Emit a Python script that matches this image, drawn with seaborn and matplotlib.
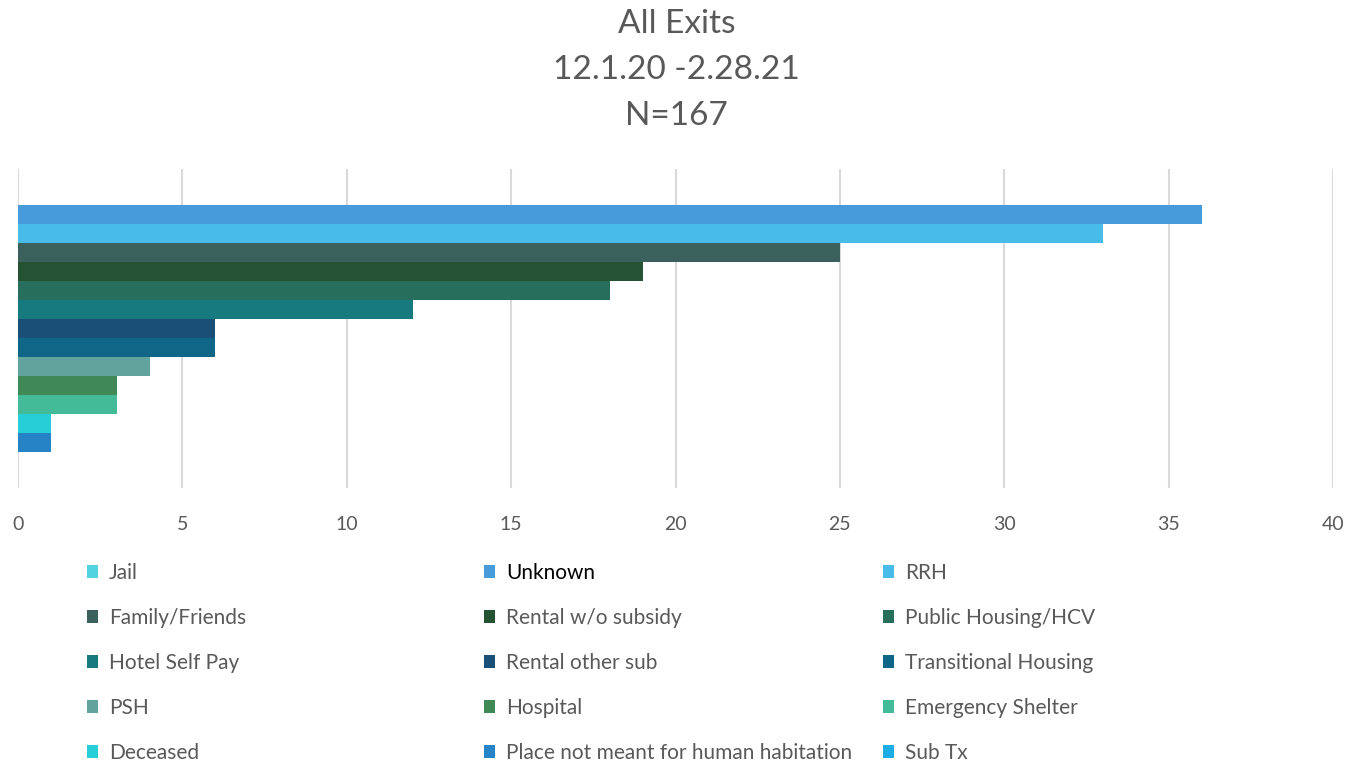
import matplotlib
matplotlib.use("Agg")
import matplotlib.pyplot as plt
from matplotlib.patches import Patch
import pandas as pd
import seaborn as sns

# exit destinations, top to bottom as drawn
categories = [
    "Jail", "Unknown", "RRH", "Family/Friends", "Rental w/o subsidy",
    "Public Housing/HCV", "Hotel Self Pay", "Rental other sub",
    "Transitional Housing", "PSH", "Hospital", "Emergency Shelter",
    "Deceased", "Place not meant for human habitation", "Sub Tx",
]
counts = [0, 36, 33, 25, 19, 18, 12, 6, 6, 4, 3, 3, 1, 1, 0]
colors = [
    "#52D4E0", "#479BDB", "#48BBE8", "#3A615C", "#255233",
    "#276F5C", "#177A7E", "#1A4F77", "#106686", "#62A39E",
    "#3E8956", "#44BB98", "#27CED7", "#2683C6", "#1CADE4",
]
title_lines = ["All Exits", "12.1.20 -2.28.21", "N=167"]
x_ticks = [0, 5, 10, 15, 20, 25, 30, 35, 40]

df = pd.DataFrame({"destination": categories, "exits": counts})
palette = dict(zip(categories, colors))

sns.set_theme(style="white")
plt.rcParams["font.family"] = ["Lato", "DejaVu Sans"]
text_grey = "#595959"

fig = plt.figure(figsize=(13.48, 7.64), dpi=100)
ax = fig.add_axes([18 / 1348, 1 - 488 / 764, 1315 / 1348, 319 / 764])

sns.barplot(data=df, x="exits", y="destination", hue="destination",
            palette=palette, order=categories, hue_order=categories,
            width=1.0, dodge=False, legend=False, saturation=1,
            linewidth=0, ax=ax)

ax.set_xlim(0, 40)
ax.set_ylim(15.4, -1.4)
ax.set_xticks(x_ticks)
ax.set_yticks([])
ax.set_xlabel("")
ax.set_ylabel("")
ax.tick_params(axis="x", labelsize=14, colors=text_grey, length=0, pad=20)
ax.xaxis.grid(True, color="#D9D9D9", linewidth=1.5)
ax.set_axisbelow(True)
for side in ax.spines.values():
    side.set_visible(False)

for i, line in enumerate(title_lines):
    fig.text(0.502, 1 - (24 + 46 * i) / 764, line, ha="center", va="center",
             fontsize=24, color=text_grey)

# legend laid out row by row in three columns
col_x = [87, 484, 883]
for c in range(3):
    labels = categories[c::3]
    handles = [Patch(facecolor=palette[l], edgecolor="none") for l in labels]
    leg = fig.legend(handles, labels, loc="upper left",
                     bbox_to_anchor=(col_x[c] / 1348, 1 - 563 / 764),
                     frameon=False, fontsize=15, handlelength=0.55,
                     handleheight=0.55, handletextpad=0.5, labelspacing=1.2,
                     borderpad=0, borderaxespad=0)
    for t in leg.get_texts():
        t.set_color("black" if t.get_text() == "Unknown" else text_grey)

fig.savefig("out.png", dpi=100)
